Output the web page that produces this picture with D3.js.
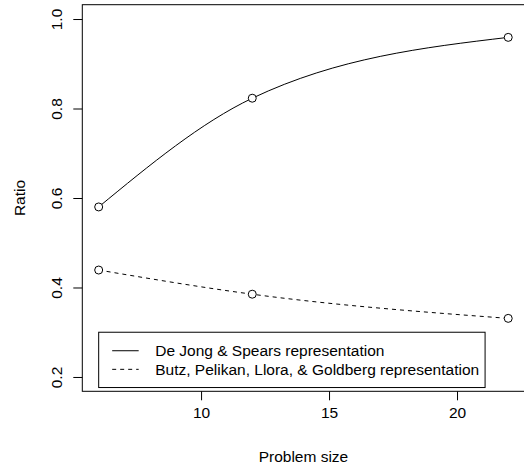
<!DOCTYPE html>
<html>
<head>
<meta charset="utf-8">
<script src="https://cdn.jsdelivr.net/npm/d3@7"></script>
<style>
  body { margin: 0; background: #fff; }
  svg { display: block; font-family: "Liberation Sans", Arial, Helvetica, sans-serif; }
</style>
</head>
<body>
<div id="chart"></div>
<script>
// problem sizes and ratios
var problemSize = [6, 12, 22];
var deJongSpears = [0.580, 0.823, 0.959];
var butzEtAl = [0.439, 0.385, 0.331];

var seriesNames = ["De Jong & Spears representation", "Butz, Pelikan, Llora, & Goldberg representation"];
var seriesDash = [null, "4,4"];

var xTicks = [10, 15, 20];
var yTicks = [0.2, 0.4, 0.6, 0.8, 1.0];

// legend anchored in data units (top-left corner)
var legendAt = [6, 0.30];

var W = 524, H = 465;
var margin = {top: 4.7, right: -0.6, bottom: 73.7, left: 82.3};
var width = W - margin.left - margin.right,
    height = H - margin.top - margin.bottom;
var fontSize = 15.5;

var svg = d3.select("#chart").append("svg")
    .attr("width", W)
    .attr("height", H);

var g = svg.append("g")
    .attr("transform", "translate(" + margin.left + "," + margin.top + ")");

// R style 4% padding on both axes
var xPad = (22 - 6) * 0.04, yPad = (1.0 - 0.2) * 0.04;
var x = d3.scaleLinear().domain([6 - xPad, 22 + xPad]).range([0, width]);
var y = d3.scaleLinear().domain([0.2 - yPad, 1.0 + yPad]).range([height, 0]);

// x axis
var xAxis = d3.axisBottom(x).tickValues(xTicks).tickSize(9).tickPadding(5).tickFormat(d3.format("d"));
var gx = g.append("g")
    .attr("transform", "translate(0," + height + ")")
    .call(xAxis);
gx.select(".domain").remove();
gx.selectAll("line").attr("stroke", "#000");
gx.selectAll("text").attr("fill", "#000").style("font-size", fontSize + "px")
    .attr("dy", "0.71em").attr("y", 16);

// y axis with labels parallel to the axis
var yAxis = d3.axisLeft(y).tickValues(yTicks).tickSize(9).tickFormat(d3.format(".1f"));
var gy = g.append("g").call(yAxis);
gy.select(".domain").remove();
gy.selectAll("line").attr("stroke", "#000");
gy.selectAll("text").remove();
gy.selectAll(".tick").append("text")
    .attr("transform", "translate(-20,0) rotate(-90)")
    .attr("text-anchor", "middle")
    .attr("fill", "#000")
    .style("font-size", fontSize + "px")
    .text(function(d) { return d3.format(".1f")(d); });

// plot box
g.append("rect")
    .attr("x", 0).attr("y", 0)
    .attr("width", width).attr("height", height)
    .attr("fill", "none")
    .attr("stroke", "#000")
    .attr("stroke-width", 1);

// axis titles
svg.append("text")
    .attr("x", margin.left + width / 2)
    .attr("y", 462)
    .attr("text-anchor", "middle")
    .style("font-size", fontSize + "px")
    .text("Problem size");

svg.append("text")
    .attr("transform", "translate(25," + (margin.top + y(0.6)) + ") rotate(-90)")
    .attr("text-anchor", "middle")
    .style("font-size", fontSize + "px")
    .text("Ratio");

var line = d3.line()
    .x(function(d) { return x(d[0]); })
    .y(function(d) { return y(d[1]); })
    .curve(d3.curveMonotoneX);

var series = [deJongSpears, butzEtAl];

series.forEach(function(vals, i) {
    var pts = problemSize.map(function(p, j) { return [p, vals[j]]; });
    g.append("path")
        .datum(pts)
        .attr("d", line)
        .attr("fill", "none")
        .attr("stroke", "#000")
        .attr("stroke-width", 1)
        .attr("stroke-dasharray", seriesDash[i]);

    g.selectAll(".pt" + i)
        .data(pts)
        .enter().append("circle")
        .attr("class", "pt" + i)
        .attr("cx", function(d) { return x(d[0]); })
        .attr("cy", function(d) { return y(d[1]); })
        .attr("r", 4)
        .attr("fill", "#fff")
        .attr("stroke", "#000")
        .attr("stroke-width", 1);
});

// legend
var lx = x(legendAt[0]), ly = y(legendAt[1]);
var legend = g.append("g").attr("transform", "translate(" + lx + "," + ly + ")");
legend.append("rect")
    .attr("x", 0).attr("y", 0)
    .attr("width", 386.4).attr("height", 55.3)
    .attr("fill", "#fff")
    .attr("stroke", "#000")
    .attr("stroke-width", 1);

seriesNames.forEach(function(name, i) {
    var rowY = 18.5 + i * 18.6;
    legend.append("line")
        .attr("x1", 13.5).attr("x2", 40)
        .attr("y1", rowY).attr("y2", rowY)
        .attr("stroke", "#000")
        .attr("stroke-width", 1)
        .attr("stroke-dasharray", seriesDash[i]);
    legend.append("text")
        .attr("x", 56.5)
        .attr("y", rowY)
        .attr("dy", "0.35em")
        .style("font-size", fontSize + "px")
        .text(name);
});
</script>
</body>
</html>
